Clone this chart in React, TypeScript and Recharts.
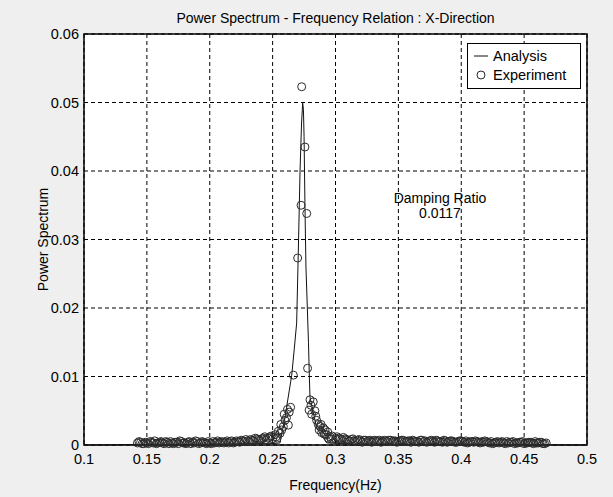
import React from 'react';
import { ComposedChart, Line, Scatter, XAxis, YAxis, CartesianGrid, ReferenceArea } from 'recharts';

const xTicks = [0.1, 0.15, 0.2, 0.25, 0.3, 0.35, 0.4, 0.45, 0.5];
const yTicks = [0, 0.01, 0.02, 0.03, 0.04, 0.05, 0.06];

// analysis curve
const anaFreq = [0.1, 0.15, 0.2, 0.23, 0.25, 0.2559, 0.2598, 0.2652, 0.2672, 0.2691, 0.2704, 0.2718, 0.273, 0.2739, 0.2745, 0.275, 0.2757, 0.2765, 0.2776, 0.2785, 0.2792, 0.2797, 0.285, 0.293, 0.32, 0.4, 0.5];
const anaPower = [0, 0.0001, 0.0001, 0.0002, 0.0002, 0.0003, 0.004, 0.0102, 0.014, 0.0178, 0.028, 0.04, 0.047, 0.0499, 0.049, 0.045, 0.035, 0.026, 0.02, 0.015, 0.01, 0.007, 0.0025, 0.0003, 0.0001, 0.0001, 0];

// experiment: low-level band away from the resonance
const baseFreq = [
  0.1425, 0.145, 0.1475, 0.15, 0.1525, 0.155, 0.1575, 0.16, 0.1625, 0.165, 0.1675, 0.17, 0.1725, 0.175, 0.1775, 0.18,
  0.1825, 0.185, 0.1875, 0.19, 0.1925, 0.195, 0.1975, 0.2, 0.2025, 0.205, 0.2075, 0.21, 0.2125, 0.215, 0.2175, 0.22,
  0.2225, 0.225, 0.2275, 0.23, 0.2325, 0.235, 0.2375, 0.24, 0.2425, 0.245, 0.2475, 0.25,
  0.3025, 0.305, 0.3075, 0.31, 0.3125, 0.315, 0.3175, 0.32, 0.3225, 0.325, 0.3275, 0.33, 0.3325, 0.335, 0.3375, 0.34,
  0.3425, 0.345, 0.3475, 0.35, 0.3525, 0.355, 0.3575, 0.36, 0.3625, 0.365, 0.3675, 0.37, 0.3725, 0.375, 0.3775, 0.38,
  0.3825, 0.385, 0.3875, 0.39, 0.3925, 0.395, 0.3975, 0.4, 0.4025, 0.405, 0.4075, 0.41, 0.4125, 0.415, 0.4175, 0.42,
  0.4225, 0.425, 0.4275, 0.43, 0.4325, 0.435, 0.4375, 0.44, 0.4425, 0.445, 0.4475, 0.45, 0.4525, 0.455, 0.4575, 0.46,
  0.4625, 0.465, 0.4675,
];
const basePower = [
  0.0003, 0.0004, 0.0002, 0.0003, 0.0005, 0.0003, 0.0002, 0.0004, 0.0003, 0.0005, 0.0002, 0.0003, 0.0004, 0.0002, 0.0005, 0.0003,
  0.0004, 0.0002, 0.0003, 0.0005, 0.0003, 0.0004, 0.0002, 0.0003, 0.0005, 0.0004, 0.0003, 0.0005, 0.0004, 0.0003, 0.0006, 0.0004,
  0.0005, 0.0007, 0.0005, 0.0006, 0.0008, 0.0006, 0.0009, 0.0007, 0.001, 0.0008, 0.0011, 0.0009,
  0.001, 0.0008, 0.0009, 0.0007, 0.0008, 0.0006, 0.0007, 0.0006, 0.0007, 0.0005, 0.0007, 0.0006, 0.0005, 0.0007, 0.0005, 0.0006,
  0.0007, 0.0005, 0.0006, 0.0005, 0.0007, 0.0005, 0.0006, 0.0004, 0.0006, 0.0005, 0.0007, 0.0005, 0.0004, 0.0006, 0.0005, 0.0007,
  0.0005, 0.0004, 0.0006, 0.0005, 0.0006, 0.0004, 0.0005, 0.0006, 0.0004, 0.0003, 0.0005, 0.0004, 0.0005, 0.0003, 0.0004, 0.0005,
  0.0003, 0.0002, 0.0004, 0.0003, 0.0005, 0.0002, 0.0003, 0.0004, 0.0002, 0.0003, 0.0004, 0.0002, 0.0003, 0.0004, 0.0002, 0.0003,
  0.0004, 0.0002, 0.0003,
];

// experiment: in-between samples of the band, [freq, power]
const baseFill = [
  [0.14375, 0.0005], [0.14625, 0.0002], [0.14875, 0.0004], [0.15125, 0.0002], [0.15375, 0.0004], [0.15625, 0.0006],
  [0.15875, 0.0003], [0.16125, 0.0005], [0.16375, 0.0002], [0.16625, 0.0004], [0.16875, 0.0005], [0.17125, 0.0002],
  [0.17375, 0.0004], [0.17625, 0.0006], [0.17875, 0.0003], [0.18125, 0.0002], [0.18375, 0.0005], [0.18625, 0.0004],
  [0.18875, 0.0006], [0.19125, 0.0002], [0.19375, 0.0005], [0.19625, 0.0003], [0.19875, 0.0005], [0.20125, 0.0002],
  [0.20375, 0.0003], [0.20625, 0.0006], [0.20875, 0.0004], [0.21125, 0.0003], [0.21375, 0.0006], [0.21625, 0.0005],
  [0.21875, 0.0003], [0.22125, 0.0006], [0.22375, 0.0004], [0.22625, 0.0006], [0.22875, 0.0008], [0.23125, 0.0005],
  [0.23375, 0.0007], [0.23625, 0.001], [0.23875, 0.0008], [0.24125, 0.0009], [0.24375, 0.0012], [0.24625, 0.001],
  [0.24875, 0.0013],
  [0.30125, 0.0012], [0.30375, 0.0009], [0.30625, 0.0011], [0.30875, 0.0008], [0.31125, 0.0006], [0.31375, 0.0009],
  [0.31625, 0.0005], [0.31875, 0.0008], [0.32125, 0.0004], [0.32375, 0.0007], [0.32625, 0.0006], [0.32875, 0.0004],
  [0.33125, 0.0007], [0.33375, 0.0006], [0.33625, 0.0004], [0.33875, 0.0007], [0.34125, 0.0005], [0.34375, 0.0007],
  [0.34625, 0.0006], [0.34875, 0.0004], [0.35125, 0.0006], [0.35375, 0.0007], [0.35625, 0.0005], [0.35875, 0.0006],
  [0.36125, 0.0007], [0.36375, 0.0005], [0.36625, 0.0004], [0.36875, 0.0007], [0.37125, 0.0006], [0.37375, 0.0005],
  [0.37625, 0.0007], [0.37875, 0.0004], [0.38125, 0.0006], [0.38375, 0.0005], [0.38625, 0.0007], [0.38875, 0.0004],
  [0.39125, 0.0006], [0.39375, 0.0005], [0.39625, 0.0004], [0.39875, 0.0006], [0.40125, 0.0005], [0.40375, 0.0006],
  [0.40625, 0.0004], [0.40875, 0.0005], [0.41125, 0.0006], [0.41375, 0.0004], [0.41625, 0.0005], [0.41875, 0.0006],
  [0.42125, 0.0004], [0.42375, 0.0005], [0.42625, 0.0003], [0.42875, 0.0005], [0.43125, 0.0004], [0.43375, 0.0003],
  [0.43625, 0.0005], [0.43875, 0.0004], [0.44125, 0.0005], [0.44375, 0.0003], [0.44625, 0.0004], [0.44875, 0.0005],
  [0.45125, 0.0003], [0.45375, 0.0004], [0.45625, 0.0003], [0.45875, 0.0005], [0.46125, 0.0003], [0.46375, 0.0004],
  [0.46625, 0.0002],
];

// experiment: points around the resonance peak
const peakFreq = [0.2519, 0.2528, 0.2535, 0.2545, 0.2559, 0.2565, 0.2572, 0.2585, 0.2592, 0.2598, 0.261, 0.2618, 0.2625, 0.2632, 0.2643, 0.2665, 0.2699, 0.2726, 0.2731, 0.2757, 0.2771, 0.2778, 0.279, 0.2797, 0.2805, 0.281, 0.2823, 0.2836, 0.2843, 0.285, 0.2863, 0.287, 0.2877, 0.2885, 0.289, 0.2903, 0.291, 0.2917, 0.293, 0.2938, 0.2945, 0.2957, 0.2965, 0.2975, 0.3];
const peakPower = [0.0015, 0.0012, 0.001, 0.002, 0.0017, 0.003, 0.0022, 0.0027, 0.0045, 0.0036, 0.004, 0.0052, 0.0029, 0.0048, 0.0055, 0.0102, 0.0273, 0.035, 0.0523, 0.0435, 0.0338, 0.0112, 0.0051, 0.0066, 0.0058, 0.0045, 0.0063, 0.005, 0.0042, 0.0036, 0.003, 0.0022, 0.0027, 0.003, 0.0018, 0.0025, 0.0016, 0.0022, 0.0015, 0.0019, 0.001, 0.0012, 0.0009, 0.0013, 0.0009];

const anaData = anaFreq.map((f, i) => ({ f, p: anaPower[i] }));
const expData = [
  ...baseFreq.map((f, i) => ({ f, p: basePower[i] })),
  ...baseFill.map(([f, p]) => ({ f, p })),
  ...peakFreq.map((f, i) => ({ f, p: peakPower[i] })),
];

const font = '"Liberation Sans", Arial, sans-serif';

const Ring = (props: any) => (
  <circle cx={props.cx} cy={props.cy} r={4} fill="none" stroke="#2a2a2a" strokeWidth={1} />
);

export default function App() {
  return (
    <div style={{ position: 'absolute', left: 0, top: 0, width: 613, height: 497, background: '#efefef', fontFamily: font }}>
      <ComposedChart width={613} height={497} margin={{ top: 34, right: 26, bottom: 0, left: 0 }}>
        <CartesianGrid fill="#fff" stroke="#000" strokeDasharray="4 3" />
        <XAxis
          type="number"
          dataKey="f"
          domain={[0.1, 0.5]}
          ticks={xTicks}
          height={52}
          axisLine={false}
          tickLine={false}
          tickSize={4}
          tickMargin={5}
          tick={{ fill: '#000', fontSize: 14.5, fontFamily: font }}
          label={{ value: 'Frequency(Hz)', position: 'insideBottom', offset: 7, style: { fill: '#000', fontSize: 14, fontFamily: font } }}
        />
        <YAxis
          type="number"
          domain={[0, 0.06]}
          ticks={yTicks}
          width={84}
          axisLine={false}
          tickLine={false}
          tickSize={4}
          tickMargin={1}
          tick={{ fill: '#000', fontSize: 14.5, fontFamily: font }}
          label={{ value: 'Power Spectrum', angle: -90, position: 'insideLeft', dx: 38, style: { textAnchor: 'middle', fill: '#000', fontSize: 14, fontFamily: font } }}
        />
        <ReferenceArea x1={0.1} x2={0.5} y1={0} y2={0.06} fill="none" stroke="#000" strokeWidth={1.5} fillOpacity={0} />
        <Line data={anaData} dataKey="p" type="linear" dot={false} stroke="#111" strokeWidth={1} isAnimationActive={false} />
        <Scatter data={expData} dataKey="p" shape={Ring} isAnimationActive={false} />
      </ComposedChart>

      <div style={{ position: 'absolute', left: 84, top: 9, width: 503, textAlign: 'center', fontSize: 14, lineHeight: '18px', color: '#000' }}>
        Power Spectrum - Frequency Relation : X-Direction
      </div>

      <div style={{ position: 'absolute', left: 380, top: 191, width: 120, textAlign: 'center', fontSize: 14, lineHeight: '15px', color: '#000' }}>
        <div>Damping Ratio</div>
        <div>0.0117</div>
      </div>

      <div style={{ position: 'absolute', left: 467, top: 43, width: 112, height: 44, border: '1px solid #000', background: '#fff', fontSize: 14.5, color: '#000' }}>
        <svg width={24} height={44} style={{ position: 'absolute', left: 0, top: 0 }}>
          <line x1={6} x2={20} y1={12} y2={12} stroke="#111" strokeWidth={1} />
          <circle cx={13} cy={31} r={4} fill="none" stroke="#2a2a2a" strokeWidth={1} />
        </svg>
        <div style={{ position: 'absolute', left: 25, top: 3, lineHeight: '18px' }}>Analysis</div>
        <div style={{ position: 'absolute', left: 25, top: 22, lineHeight: '18px' }}>Experiment</div>
      </div>
    </div>
  );
}
